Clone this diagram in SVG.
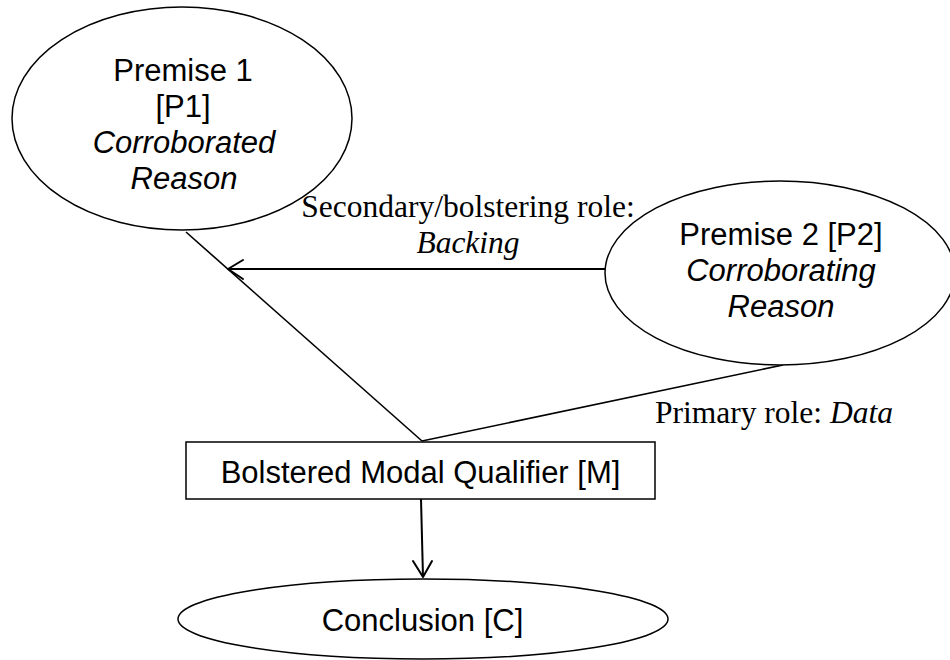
<svg xmlns="http://www.w3.org/2000/svg" width="950" height="660" viewBox="0 0 950 660">
<style>
  .shape { fill: #ffffff; stroke: #000000; stroke-width: 1.5; }
  .sans { font-family: "Liberation Sans", Arial, Helvetica, sans-serif; font-size: 31px; fill: #000000; text-anchor: middle; }
  .serif { font-family: "Liberation Serif", "Times New Roman", serif; font-size: 31.5px; fill: #000000; }
  .it { font-style: italic; }
  .conn { fill: none; stroke: #000000; stroke-width: 1.6; }
  .thick { stroke-width: 2; }
  .head { fill: none; stroke: #000000; stroke-width: 2; stroke-linecap: round; stroke-linejoin: round; }
</style>
<rect width="950" height="660" fill="#ffffff"/>
<g id="connectors">
  <line class="conn" x1="186" y1="232" x2="422" y2="441"/>
  <line class="conn" x1="783" y1="365" x2="422" y2="441"/>
  <line class="conn thick" x1="605" y1="269" x2="229" y2="269"/>
  <polyline class="head" points="243,260 228,269 243,279"/>
  <line class="conn thick" x1="421" y1="499" x2="423" y2="577"/>
  <polyline class="head" points="413,561 423,577 432,561"/>
  <text class="serif" x="468" y="217" text-anchor="middle">Secondary/bolstering role:</text>
  <text class="serif it" x="468" y="253" text-anchor="middle">Backing</text>
  <text class="serif" x="655" y="423">Primary role: <tspan class="it">Data</tspan></text>
</g>
<g id="p1">
  <ellipse class="shape" cx="182" cy="118.5" rx="170" ry="111.5"/>
  <text class="sans" x="183" y="81">Premise 1</text>
  <text class="sans" x="183" y="117">[P1]</text>
  <text class="sans it" x="184" y="153">Corroborated</text>
  <text class="sans it" x="184" y="189">Reason</text>
</g>
<g id="p2">
  <ellipse class="shape" cx="780" cy="273" rx="175" ry="92"/>
  <text class="sans" x="781" y="245">Premise 2 [P2]</text>
  <text class="sans it" x="781" y="281">Corroborating</text>
  <text class="sans it" x="781" y="317">Reason</text>
</g>
<g id="m">
  <rect class="shape" x="186" y="442" width="469" height="57"/>
  <text class="sans" x="420.5" y="483">Bolstered Modal Qualifier [M]</text>
</g>
<g id="c">
  <ellipse class="shape" cx="423" cy="619" rx="245" ry="40"/>
  <text class="sans" x="422.5" y="631">Conclusion [C]</text>
</g>
</svg>
